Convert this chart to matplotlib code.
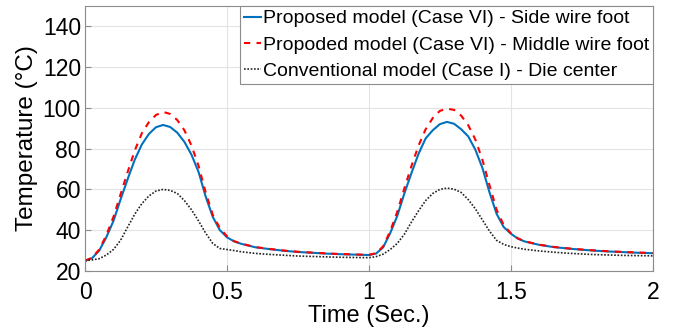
import matplotlib
matplotlib.use("Agg")
import matplotlib.pyplot as plt

# time (s)
t = [0.0, 0.025, 0.05, 0.075, 0.1, 0.125, 0.15, 0.175, 0.2, 0.225, 0.25, 0.275,
     0.3, 0.325, 0.35, 0.375, 0.4, 0.425, 0.45, 0.475, 0.5, 0.525, 0.55,
     0.6, 0.65, 0.7, 0.75, 0.8, 0.85, 0.9, 0.95, 1.0,
     1.025, 1.05, 1.075, 1.1, 1.125, 1.15, 1.175, 1.2, 1.225, 1.25, 1.275,
     1.3, 1.325, 1.35, 1.375, 1.4, 1.425, 1.45, 1.475, 1.5, 1.525, 1.55,
     1.6, 1.65, 1.7, 1.75, 1.8, 1.85, 1.9, 1.95, 2.0]

# side wire foot (proposed, case VI)
side = [25.0, 26.3, 30.0, 36.5, 44.5, 55.0, 65.0, 74.5, 82.0, 87.2, 90.5, 91.6,
        90.6, 87.8, 83.3, 77.0, 68.5, 56.5, 46.5, 40.0, 36.5, 34.5, 33.3,
        31.6, 30.7, 29.9, 29.3, 28.9, 28.5, 28.2, 28.0, 27.8,
        28.5, 31.5, 38.5, 47.0, 58.0, 68.0, 77.5, 85.0, 89.0, 92.0, 93.1,
        92.2, 89.5, 86.0, 79.5, 70.5, 58.5, 48.0, 41.5, 38.3, 35.8, 34.4,
        32.8, 31.7, 31.0, 30.4, 29.9, 29.5, 29.2, 28.9, 28.7]

# middle wire foot (proposed, case VI)
middle = [25.0, 26.5, 30.5, 37.5, 46.5, 57.5, 68.5, 79.0, 87.5, 93.0, 96.5, 98.0,
          97.0, 94.0, 89.0, 81.5, 71.5, 58.5, 47.5, 41.0, 37.0, 34.6, 33.4,
          31.7, 30.8, 30.0, 29.4, 29.0, 28.6, 28.3, 28.1, 27.9,
          28.7, 32.0, 39.5, 49.0, 60.5, 71.5, 81.5, 89.5, 95.0, 98.5, 99.6,
          99.0, 96.2, 91.5, 84.5, 74.5, 62.0, 50.0, 42.5, 38.5, 36.0, 34.5,
          32.9, 31.8, 31.1, 30.5, 30.0, 29.6, 29.3, 29.0, 28.8]

# die center (conventional, case I)
center = [25.0, 25.4, 26.0, 27.8, 30.5, 35.0, 41.5, 47.8, 53.0, 56.8, 59.2, 60.0,
          59.5, 58.0, 54.5, 50.0, 44.5, 38.5, 33.5, 31.0, 30.5, 30.0, 29.4,
          28.6, 28.1, 27.7, 27.3, 27.1, 26.9, 26.7, 26.6, 26.5,
          27.0, 28.2, 30.5, 33.5, 38.0, 44.0, 49.5, 54.5, 58.0, 60.0, 60.6,
          60.1, 58.5, 55.0, 50.5, 45.0, 39.5, 35.0, 33.0, 31.9, 31.2, 30.6,
          29.8, 29.2, 28.7, 28.3, 28.0, 27.8, 27.6, 27.5, 27.4]

labels = ["Proposed model (Case VI) - Side wire foot",
          "Propoded model (Case VI) - Middle wire foot",
          "Conventional model (Case I) - Die center"]

plt.rcParams['font.family'] = ['Liberation Sans', 'DejaVu Sans']

fig = plt.figure(figsize=(6.75, 3.28), dpi=100)
ax = fig.add_axes([0.126, 0.174, 0.841, 0.808])

ax.plot(t, side, color='#0072BD', lw=1.5, label=labels[0])
ax.plot(t, middle, color='#FF0000', lw=1.5, ls=(0, (3, 3)), label=labels[1])
ax.plot(t, center, color='#222222', lw=1.2, ls=(0, (1, 1)), label=labels[2])

ax.set_xlim(0, 2)
ax.set_ylim(20, 150)
ax.set_xticks([0, 0.5, 1, 1.5, 2])
ax.set_xticklabels(['0', '0.5', '1', '1.5', '2'])
ax.set_yticks([20, 40, 60, 80, 100, 120, 140])
ax.grid(True, color='#e3e3e3', lw=0.8)
ax.set_axisbelow(True)
for s in ax.spines.values():
    s.set_color('#8c8c8c')
ax.tick_params(direction='in', length=4, color='#8c8c8c', labelsize=16.5)
ax.tick_params(axis='y', pad=3)
ax.tick_params(axis='x', pad=7)
ax.set_xlabel('Time (Sec.)', fontsize=17, labelpad=1)
ax.set_ylabel('Temperature (\u00b0C)', fontsize=17.5, labelpad=3)

leg = ax.legend(loc='upper right', bbox_to_anchor=(1, 1), borderaxespad=0,
                fontsize=14, fancybox=False, framealpha=1, edgecolor='#8c8c8c',
                handlelength=0.85, handletextpad=0.1, borderpad=0.2,
                labelspacing=0.45)
leg.get_frame().set_linewidth(0.8)

fig.savefig('out.png', dpi=100)
